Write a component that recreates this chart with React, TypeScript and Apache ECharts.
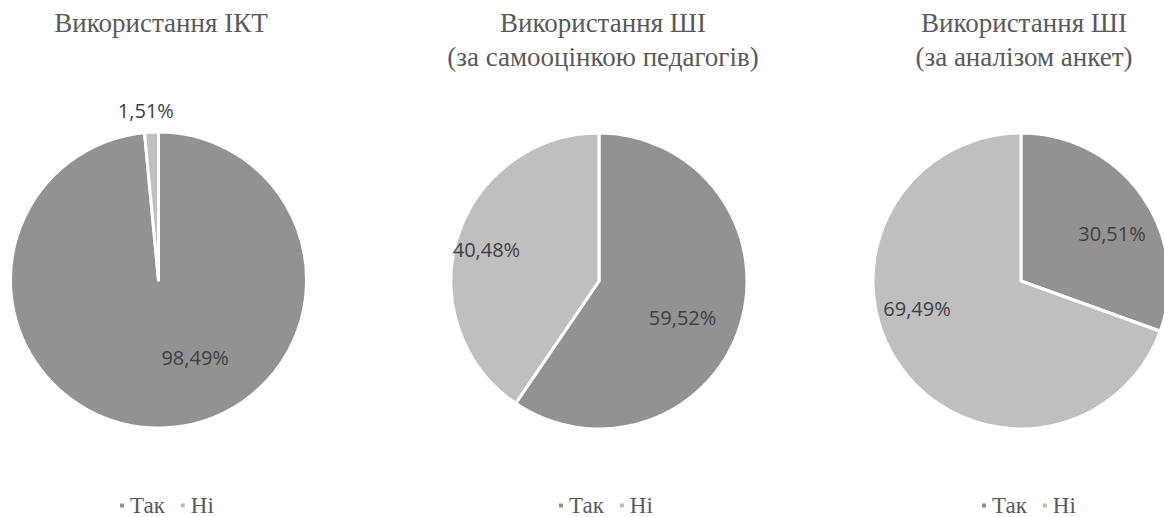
import React, { useEffect, useRef } from "react";
import * as echarts from "echarts";

const categories = ["Так", "Ні"];
const ictValues = [98.49, 1.51];
const aiSelfValues = [59.52, 40.48];
const aiSurveyValues = [30.51, 69.49];
const titles = [
  "Використання ІКТ",
  "Використання ШІ\n(за самооцінкою педагогів)",
  "Використання ШІ\n(за аналізом анкет)",
];
const colors = ["#929292", "#bfbfbf"];

const centers = [
  [158.5, 280],
  [599, 281],
  [1021, 281],
];
const labelShifts = [
  [[33, 1], [-9, -93]],
  [[10, 14], [-39, -9]],
  [[28, -3], [-41, -17]],
];
const titleX = [156, 598, 1019];
const legendX = [113, 552, 975];

const SERIF = "Liberation Serif";

export default function App() {
  const ref = useRef<HTMLDivElement>(null);
  useEffect(() => {
    document.body.style.margin = "0";
    const chart = echarts.init(ref.current!, null, { renderer: "svg" });
    const valueSets = [ictValues, aiSelfValues, aiSurveyValues];
    const fmt = (v: number) => v.toFixed(2).replace(".", ",") + "%";
    const legendText = {
      fontFamily: SERIF,
      fontSize: 23,
      color: "#595959",
    };
    chart.setOption({
      animation: false,
      backgroundColor: "#ffffff",
      color: colors,
      textStyle: { fontFamily: SERIF },
      title: titles.map((t, i) => ({
        text: t,
        left: titleX[i],
        top: 1,
        textAlign: "center",
        textStyle: {
          fontFamily: SERIF,
          fontWeight: "normal",
          fontSize: 27,
          color: "#595959",
          lineHeight: 34,
        },
      })),
      legend: legendX.map((x) => ({
        data: categories.map((c) => ({ name: c, textStyle: legendText })),
        left: x,
        top: 489,
        icon: "rect",
        itemWidth: 6,
        itemHeight: 6,
        itemGap: 14,
        selectedMode: false,
        textStyle: legendText,
      })),
      series: valueSets.map((vals, si) => ({
        type: "pie",
        center: centers[si],
        radius: 148,
        startAngle: 90,
        clockwise: true,
        silent: true,
        itemStyle: { borderColor: "#ffffff", borderWidth: 3 },
        label: {
          show: true,
          position: "inside",
          fontFamily: "Open Sans",
          fontSize: 20,
          color: "#404040",
          formatter: (p: any) => fmt(p.value),
        },
        labelLine: { show: false },
        labelLayout: (p: any) => ({
          dx: labelShifts[si][p.dataIndex][0],
          dy: labelShifts[si][p.dataIndex][1],
        }),
        data: categories.map((c, i) => ({ name: c, value: vals[i] })),
      })),
    });
    return () => chart.dispose();
  }, []);
  return <div ref={ref} style={{ width: 1164, height: 517 }} />;
}
